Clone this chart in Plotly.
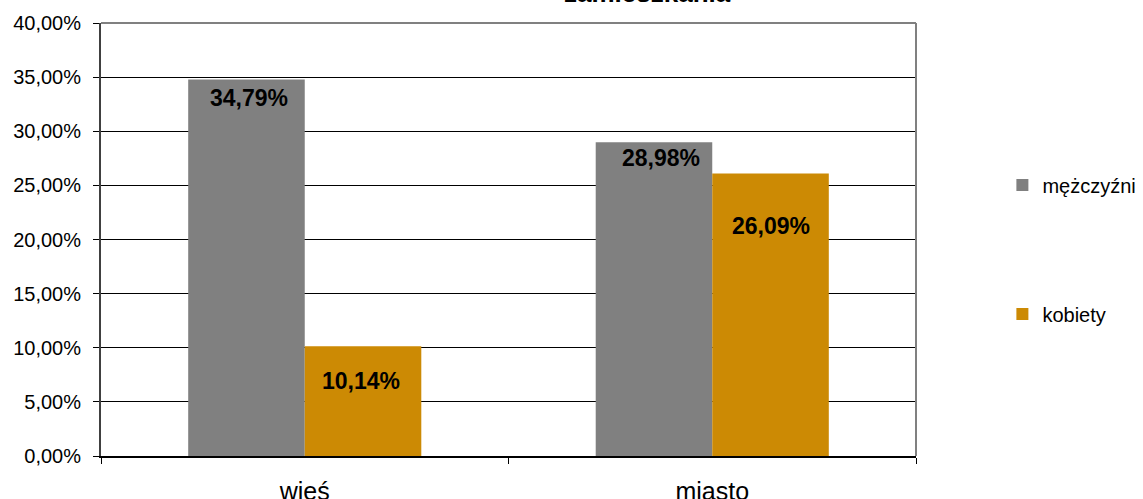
import plotly.graph_objects as go

categories = ["wieś", "miasto"]
series_names = ["mężczyźni", "kobiety"]
men = [0.3479, 0.2898]
women = [0.1014, 0.2609]
label_texts_men = ["34,79%", "28,98%"]
label_texts_women = ["10,14%", "26,09%"]
title_text = "zamieszkania"

COLORS = ["#808080", "#CC8A04"]
FONT = "Liberation Sans, Arial, sans-serif"
BARGAP = 0.428

# label placement style (pixel shifts from the bar top / bar centre)
label_yshift = [[-19, -16], [-35, -52]]
label_xshift = [[3, 7], [-2, 0]]

fig = go.Figure()
for j, (name, vals) in enumerate(zip(series_names, [men, women])):
    fig.add_trace(go.Bar(
        x=categories, y=vals, name=name,
        marker=dict(color=COLORS[j], line=dict(width=0)),
        legendgroup=name,
    ))

annotations = []
for j, (vals, texts) in enumerate(zip([men, women], [label_texts_men, label_texts_women])):
    for i, (v, t) in enumerate(zip(vals, texts)):
        annotations.append(dict(
            x=i + (j - 0.5) * (1 - BARGAP) / 2, xref="x",
            y=v, yref="y",
            text="<b>%s</b>" % t, showarrow=False,
            yanchor="middle", xanchor="center",
            yshift=label_yshift[j][i], xshift=label_xshift[j][i],
            font=dict(family=FONT, size=23, color="#000000"),
        ))

annotations.append(dict(
    x=(647.5 - 101) / 815, xref="paper", y=1, yref="paper",
    text="<b>%s</b>" % title_text, showarrow=False,
    xanchor="center", yanchor="bottom", yshift=13,
    font=dict(family=FONT, size=26, color="#000000"),
))

shapes = [
    dict(type="line", xref="paper", yref="paper", x0=0, x1=1, y0=1, y1=1,
         line=dict(color="#808080", width=2)),
    dict(type="line", xref="paper", yref="paper", x0=1, x1=1, y0=0, y1=1,
         line=dict(color="#808080", width=2)),
]

fig.update_layout(
    width=1143, height=499,
    margin=dict(l=101, r=227, t=23, b=43, autoexpand=False),
    paper_bgcolor="white", plot_bgcolor="white",
    separators=", ",
    barmode="group", bargap=BARGAP, bargroupgap=0,
    font=dict(family=FONT, size=20, color="#000000"),
    showlegend=True,
    legend=dict(
        x=1.106, y=0.671, xanchor="left", yanchor="top",
        traceorder="grouped", tracegroupgap=100,
        font=dict(family=FONT, size=20, color="#000000"),
        bgcolor="rgba(0,0,0,0)",
    ),
    annotations=annotations,
    shapes=shapes,
    xaxis=dict(
        automargin=False,
        showgrid=False, showline=True, linecolor="#000000", linewidth=2,
        ticks="outside", tickson="boundaries", ticklen=6, tickcolor="#000000",
        ticklabelstandoff=12,
        tickfont=dict(family=FONT, size=25, color="#000000"),
        zeroline=False,
    ),
    yaxis=dict(
        automargin=False,
        range=[0, 0.4], dtick=0.05, tickformat=".2%",
        showgrid=True, gridcolor="#000000", gridwidth=1,
        showline=True, linecolor="#404040", linewidth=2,
        ticks="outside", ticklen=6, tickcolor="#000000", ticklabelstandoff=8,
        tickfont=dict(family=FONT, size=20, color="#000000"),
        zeroline=False,
    ),
)

fig.write_html(
    "out.html",
    config={"displayModeBar": False},
    post_script="document.body.style.margin='0px';document.body.style.overflow='hidden';",
)
